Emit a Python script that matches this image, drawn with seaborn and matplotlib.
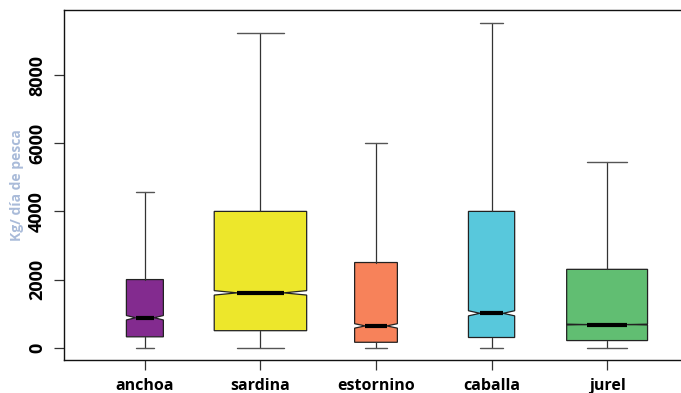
import numpy as np
import matplotlib
matplotlib.use('Agg')
import matplotlib.pyplot as plt
import seaborn as sns

# especies y resumen de cada caja (kg / dia de pesca)
especies = ['anchoa', 'sardina', 'estornino', 'caballa', 'jurel']
q1 = [320, 500, 160, 300, 210]
mediana = [880, 1610, 640, 1010, 680]
q3 = [2000, 4000, 2500, 4000, 2300]
bigote_inf = [0, 0, 0, 0, 0]
bigote_sup = [4570, 9220, 6000, 9520, 5450]
notch_inf = [815, 1545, 575, 935, 668]
notch_sup = [945, 1675, 705, 1085, 692]
anchos = [0.32, 0.80, 0.37, 0.40, 0.70]
colores = ['#832b8f', '#ede72b', '#f7825a', '#58c8dc', '#61be72']

sns.set_style('ticks')
plt.rcParams['font.family'] = ['Open Sans', 'DejaVu Sans']

stats = []
for i in range(len(especies)):
    stats.append(dict(label=especies[i], med=mediana[i], q1=q1[i], q3=q3[i],
                      whislo=bigote_inf[i], whishi=bigote_sup[i],
                      cilo=notch_inf[i], cihi=notch_sup[i], fliers=[]))

fig = plt.figure(figsize=(6.81, 3.93), dpi=100)
ax = fig.add_axes([64/681, 33/393, 624/681, 349.7/393])

pos = np.arange(len(especies))
bp = ax.bxp(stats, positions=pos, widths=anchos, shownotches=True, patch_artist=True,
            showfliers=False,
            boxprops=dict(edgecolor='#222222', linewidth=0.9),
            whiskerprops=dict(color='#333333', linewidth=0.9),
            capprops=dict(color='#555555', linewidth=1.0),
            medianprops=dict(color='black', linewidth=3.0, solid_capstyle='butt'))
for caja, c in zip(bp['boxes'], sns.color_palette(colores)):
    caja.set_facecolor(c)

ax.set_xlim(-0.7, 4.7)
ax.set_ylim(-360, 9900)
ax.set_yticks([0, 2000, 4000, 6000, 8000])
ax.set_yticklabels(['0', '2000', '4000', '6000', '8000'], rotation=90, va='center',
                   fontsize=13, fontweight='bold', color='black')
ax.set_xticks(pos)
ax.set_xticklabels(especies, fontsize=11.5, fontweight='bold', color='black')
ax.tick_params(axis='both', length=7, width=0.9, color='#333333', pad=6)
ax.set_ylabel('Kg/ día de pesca', color='#a9bbd9', fontsize=10, fontweight='bold', labelpad=3)
for s in ['left', 'bottom', 'top']:
    ax.spines[s].set_linewidth(1.0)
    ax.spines[s].set_color('#111111')
ax.spines['right'].set_visible(False)

fig.savefig('out.png', dpi=100)
